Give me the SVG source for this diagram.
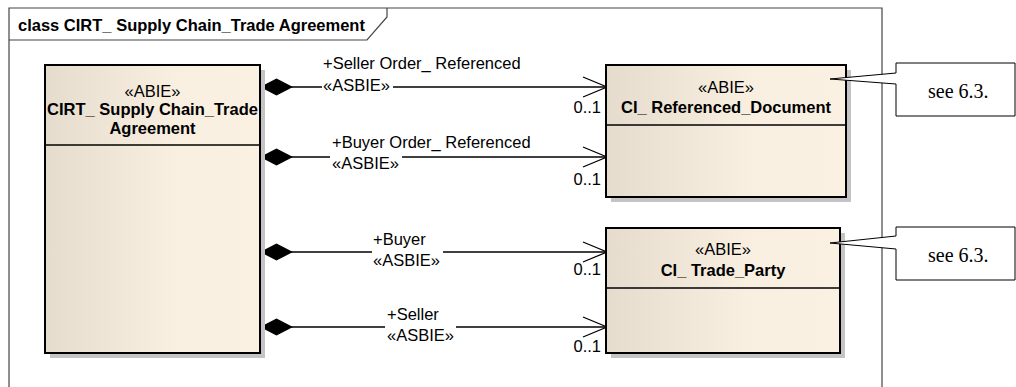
<svg xmlns="http://www.w3.org/2000/svg" width="1016" height="387" viewBox="0 0 1016 387">
<defs>
<linearGradient id="g" x1="0" y1="0" x2="1" y2="0">
<stop offset="0" stop-color="#e5dccd"/>
<stop offset="0.6" stop-color="#f9efe1"/>
<stop offset="1" stop-color="#fbf1e3"/>
</linearGradient>
<marker id="dia" markerWidth="34" markerHeight="18" refX="0" refY="9" orient="auto" markerUnits="userSpaceOnUse">
<path d="M0,9 L16.5,0.5 L33,9 L16.5,17.5 Z" fill="#000"/>
</marker>
<marker id="open" markerWidth="26" markerHeight="22" refX="25" refY="11" orient="auto" markerUnits="userSpaceOnUse">
<path d="M1,1 L25,11 L1,21" fill="none" stroke="#000" stroke-width="1.3"/>
</marker>
</defs>
<style>
text{font-family:"Liberation Sans",Arial,sans-serif;font-size:16.5px;fill:#000}
.b{font-weight:bold}
.c{text-anchor:middle}
.r{text-anchor:end}
.box{fill:url(#g);stroke:#000;stroke-width:2}
.sh{fill:#c4c4c4}
.ln{stroke:#000;stroke-width:1.3;fill:none}
.note{fill:#fff;stroke:#000;stroke-width:1}
.nt{font-family:"Liberation Serif","Times New Roman",serif;font-size:20px}
</style>
<rect width="1016" height="387" fill="#fff"/>
<g id="frame">
<path d="M9,400 L9,8 L882,8 L882,400" fill="none" stroke="#444" stroke-width="1.2"/>
<path d="M9,40 L367,40 L387,17 L387,8" fill="none" stroke="#444" stroke-width="1.2"/>
<text class="b" x="18" y="31">class CIRT_ Supply Chain_Trade Agreement</text>
</g>
<g id="connectors">
<line class="ln" x1="260" y1="87" x2="322" y2="87" marker-start="url(#dia)"/>
<line class="ln" x1="393" y1="87" x2="607" y2="87" marker-end="url(#open)"/>
<line class="ln" x1="260" y1="157" x2="330" y2="157" marker-start="url(#dia)"/>
<line class="ln" x1="402" y1="157" x2="607" y2="157" marker-end="url(#open)"/>
<line class="ln" x1="260" y1="252" x2="372" y2="252" marker-start="url(#dia)"/>
<line class="ln" x1="443" y1="252" x2="607" y2="252" marker-end="url(#open)"/>
<line class="ln" x1="260" y1="327" x2="385" y2="327" marker-start="url(#dia)"/>
<line class="ln" x1="456" y1="327" x2="607" y2="327" marker-end="url(#open)"/>
<text x="323" y="69">+Seller Order_ Referenced</text>
<text x="323" y="91">«ASBIE»</text>
<text class="r" x="601" y="113">0..1</text>
<text x="332" y="148">+Buyer Order_ Referenced</text>
<text x="332" y="169">«ASBIE»</text>
<text class="r" x="601" y="185">0..1</text>
<text x="373" y="245">+Buyer</text>
<text x="373" y="266">«ASBIE»</text>
<text class="r" x="601" y="275">0..1</text>
<text x="387" y="320">+Seller</text>
<text x="387" y="341">«ASBIE»</text>
<text class="r" x="601" y="352">0..1</text>
</g>
<g id="cirt">
<rect class="sh" x="50" y="70" width="215" height="288"/>
<rect class="box" x="45" y="65" width="215" height="288"/>
<line x1="45" y1="145" x2="260" y2="145" stroke="#000" stroke-width="1.5"/>
<text class="c" x="152.5" y="97">«ABIE»</text>
<text class="c b" x="152.5" y="115">CIRT_ Supply Chain_Trade</text>
<text class="c b" x="152.5" y="134">Agreement</text>
</g>
<g id="refdoc">
<rect class="sh" x="611" y="70" width="240" height="132"/>
<rect class="box" x="606" y="65" width="240" height="132"/>
<line x1="606" y1="125" x2="846" y2="125" stroke="#000" stroke-width="1.5"/>
<text class="c" x="726" y="93">«ABIE»</text>
<text class="c b" x="726" y="113">CI_ Referenced_Document</text>
</g>
<g id="party">
<rect class="sh" x="611" y="233" width="234" height="125"/>
<rect class="box" x="606" y="228" width="234" height="125"/>
<line x1="606" y1="288" x2="840" y2="288" stroke="#000" stroke-width="1.5"/>
<text class="c" x="723" y="255">«ABIE»</text>
<text class="c b" x="723" y="276">CI_ Trade_Party</text>
</g>
<g id="note1">
<path class="note" d="M896,63 L896,73 L830,79 L896,84 L896,116 L1015,116 L1015,63 Z"/>
<text class="nt" x="928" y="98">see 6.3.</text>
</g>
<g id="note2">
<path class="note" d="M896,227 L896,236 L830,243 L896,249 L896,280 L1015,280 L1015,227 Z"/>
<text class="nt" x="928" y="262">see 6.3.</text>
</g>
</svg>
